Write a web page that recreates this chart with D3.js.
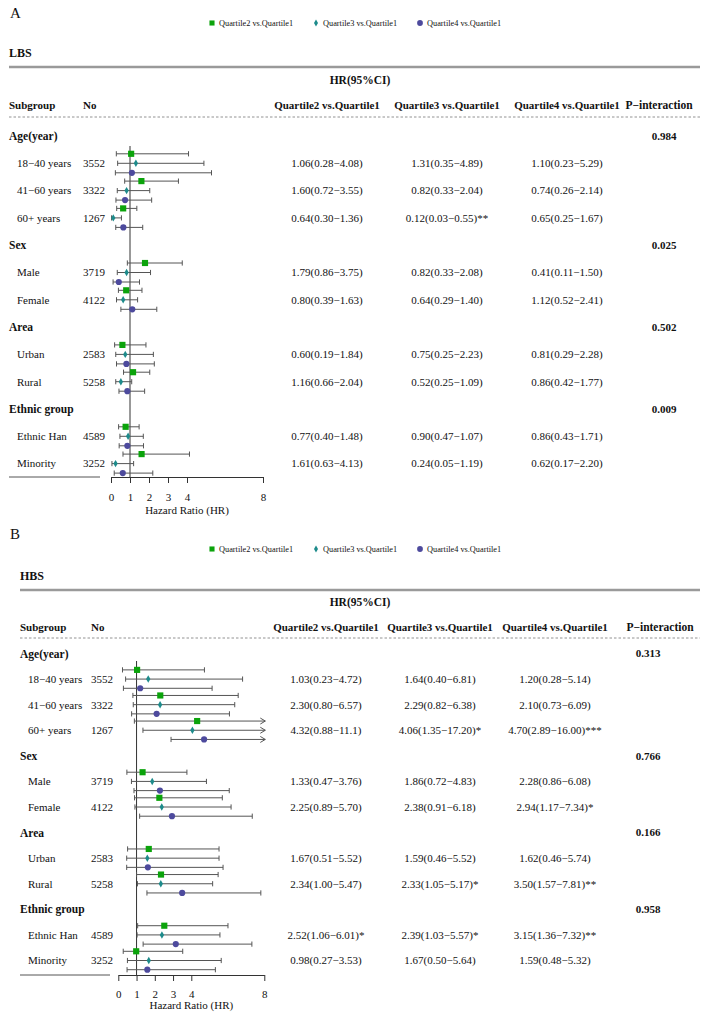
<!DOCTYPE html>
<html><head><meta charset="utf-8">
<script src="https://cdn.jsdelivr.net/npm/d3@7"></script>
<style>
body{margin:0;background:#fff}
svg text{font-family:"Liberation Serif","Times New Roman",serif;fill:#111}
</style>
</head><body>
<svg id="chart" width="711" height="1019"></svg>
<script>
// ---------------- DATA ----------------
const groupNames = ["Age(year)", "Sex", "Area", "Ethnic group"];
const groupOf = [0, 0, 0, 1, 1, 2, 2, 3, 3];
const subgroups = ["18\u221240 years", "41\u221260 years", "60+ years", "Male", "Female", "Urban", "Rural", "Ethnic Han", "Minority"];
const counts = ["3552", "3322", "1267", "3719", "4122", "2583", "5258", "4589", "3252"];
const seriesNames = ["Quartile2 vs.Quartile1", "Quartile3 vs.Quartile1", "Quartile4 vs.Quartile1"];
const axisTicks = [0, 1, 2, 3, 4, 8];

// Panel A: LBS
const lbsP = ["0.984", "0.025", "0.502", "0.009"];
const lbsQ2Est = [1.06, 1.60, 0.64, 1.79, 0.80, 0.60, 1.16, 0.77, 1.61];
const lbsQ2Lo  = [0.28, 0.72, 0.30, 0.86, 0.39, 0.19, 0.66, 0.40, 0.63];
const lbsQ2Hi  = [4.08, 3.55, 1.36, 3.75, 1.63, 1.84, 2.04, 1.48, 4.13];
const lbsQ3Est = [1.31, 0.82, 0.12, 0.82, 0.64, 0.75, 0.52, 0.90, 0.24];
const lbsQ3Lo  = [0.35, 0.33, 0.03, 0.33, 0.29, 0.25, 0.25, 0.47, 0.05];
const lbsQ3Hi  = [4.89, 2.04, 0.55, 2.08, 1.40, 2.23, 1.09, 1.70, 1.19];
const lbsQ4Est = [1.10, 0.74, 0.65, 0.41, 1.12, 0.81, 0.86, 0.86, 0.62];
const lbsQ4Lo  = [0.23, 0.26, 0.25, 0.11, 0.52, 0.29, 0.42, 0.43, 0.17];
const lbsQ4Hi  = [5.29, 2.14, 1.67, 1.50, 2.41, 2.28, 1.77, 1.71, 2.20];
const lbsQ2Text = ["1.06(0.28\u22124.08)", "1.60(0.72\u22123.55)", "0.64(0.30\u22121.36)", "1.79(0.86\u22123.75)", "0.80(0.39\u22121.63)", "0.60(0.19\u22121.84)", "1.16(0.66\u22122.04)", "0.77(0.40\u22121.48)", "1.61(0.63\u22124.13)"];
const lbsQ3Text = ["1.31(0.35\u22124.89)", "0.82(0.33\u22122.04)", "0.12(0.03\u22120.55)**", "0.82(0.33\u22122.08)", "0.64(0.29\u22121.40)", "0.75(0.25\u22122.23)", "0.52(0.25\u22121.09)", "0.90(0.47\u22121.07)", "0.24(0.05\u22121.19)"];
const lbsQ4Text = ["1.10(0.23\u22125.29)", "0.74(0.26\u22122.14)", "0.65(0.25\u22121.67)", "0.41(0.11\u22121.50)", "1.12(0.52\u22122.41)", "0.81(0.29\u22122.28)", "0.86(0.42\u22121.77)", "0.86(0.43\u22121.71)", "0.62(0.17\u22122.20)"];

// Panel B: HBS
const hbsP = ["0.313", "0.766", "0.166", "0.958"];
const hbsQ2Est = [1.03, 2.30, 4.32, 1.33, 2.25, 1.67, 2.34, 2.52, 0.98];
const hbsQ2Lo  = [0.23, 0.80, 0.88, 0.47, 0.89, 0.51, 1.00, 1.06, 0.27];
const hbsQ2Hi  = [4.72, 6.57, 11.1, 3.76, 5.70, 5.52, 5.47, 6.01, 3.53];
const hbsQ3Est = [1.64, 2.29, 4.06, 1.86, 2.38, 1.59, 2.33, 2.39, 1.67];
const hbsQ3Lo  = [0.40, 0.82, 1.35, 0.72, 0.91, 0.46, 1.05, 1.03, 0.50];
const hbsQ3Hi  = [6.81, 6.38, 17.20, 4.83, 6.18, 5.52, 5.17, 5.57, 5.64];
const hbsQ4Est = [1.20, 2.10, 4.70, 2.28, 2.94, 1.62, 3.50, 3.15, 1.59];
const hbsQ4Lo  = [0.28, 0.73, 2.89, 0.86, 1.17, 0.46, 1.57, 1.36, 0.48];
const hbsQ4Hi  = [5.14, 6.09, 16.00, 6.08, 7.34, 5.74, 7.81, 7.32, 5.32];
const hbsQ2Text = ["1.03(0.23\u22124.72)", "2.30(0.80\u22126.57)", "4.32(0.88\u221211.1)", "1.33(0.47\u22123.76)", "2.25(0.89\u22125.70)", "1.67(0.51\u22125.52)", "2.34(1.00\u22125.47)", "2.52(1.06\u22126.01)*", "0.98(0.27\u22123.53)"];
const hbsQ3Text = ["1.64(0.40\u22126.81)", "2.29(0.82\u22126.38)", "4.06(1.35\u221217.20)*", "1.86(0.72\u22124.83)", "2.38(0.91\u22126.18)", "1.59(0.46\u22125.52)", "2.33(1.05\u22125.17)*", "2.39(1.03\u22125.57)*", "1.67(0.50\u22125.64)"];
const hbsQ4Text = ["1.20(0.28\u22125.14)", "2.10(0.73\u22126.09)", "4.70(2.89\u221216.00)***", "2.28(0.86\u22126.08)", "2.94(1.17\u22127.34)*", "1.62(0.46\u22125.74)", "3.50(1.57\u22127.81)**", "3.15(1.36\u22127.32)**", "1.59(0.48\u22125.32)"];

// ---------------- STYLE / LAYOUT ----------------
const colors = ["#0ba30b", "#1d8b8b", "#4d4a9d"];
const shapes = [d3.symbolSquare, d3.symbolDiamond, d3.symbolCircle];
const sizes = [38, 16, 30];

const panels = [
  { letter: "A", name: "LBS", p: lbsP,
    est: [lbsQ2Est, lbsQ3Est, lbsQ4Est], lo: [lbsQ2Lo, lbsQ3Lo, lbsQ4Lo], hi: [lbsQ2Hi, lbsQ3Hi, lbsQ4Hi],
    txt: [lbsQ2Text, lbsQ3Text, lbsQ4Text],
    L: { left: 9, subX: 17, noX: 83, letterY: 13, legendY: 23, nameY: 53, thickY: 67, hrY: 80, headY: 105, dashY: 117,
         row0: 136, rowN: 463.6, off: 9.5, axisY: 477, xr: [111, 263], leftLine: [9, 100], refTop: 146,
         colX: [327, 447, 567], pX: 664, pHeadX: 659, tickPad: 10, titleY: 510 } },
  { letter: "B", name: "HBS", p: hbsP,
    est: [hbsQ2Est, hbsQ3Est, hbsQ4Est], lo: [hbsQ2Lo, hbsQ3Lo, hbsQ4Lo], hi: [hbsQ2Hi, hbsQ3Hi, hbsQ4Hi],
    txt: [hbsQ2Text, hbsQ3Text, hbsQ4Text],
    L: { left: 20, subX: 28, noX: 91, letterY: 534, legendY: 549, nameY: 576, thickY: 590, hrY: 602, headY: 627, dashY: 638,
         row0: 653.5, rowN: 960.5, off: 9.2, axisY: 975, xr: [118.3, 264.3], leftLine: [20, 110], refTop: 661,
         colX: [326, 440, 555], pX: 648, pHeadX: 660, tickPad: 9, titleY: 1005 } }
];

const svg = d3.select("#chart");

panels.forEach(P => {
  const L = P.L;
  const g = svg.append("g");

  const rows = [];
  groupNames.forEach((gn, gi) => {
    rows.push({ type: "group", gi });
    groupOf.forEach((go, si) => { if (go === gi) rows.push({ type: "sub", si }); });
  });
  const y = d3.scalePoint().domain(d3.range(rows.length)).range([L.row0, L.rowN]);
  const yOff = d3.scalePoint().domain([0, 1, 2]).range([-L.off, L.off]);
  const x = d3.scaleLinear().domain([0, 8]).range(L.xr);

  g.append("text").attr("x", 10).attr("y", L.letterY).attr("dy", "0.35em")
    .style("font-size", "15px").text(P.letter);

  const legX = [212, 316, 420];
  seriesNames.forEach((s, i) => {
    g.append("path").attr("d", d3.symbol(shapes[i], i === 1 ? 14 : 26)())
      .attr("transform", `translate(${legX[i]},${L.legendY})`).attr("fill", colors[i]);
    g.append("text").attr("x", legX[i] + 7).attr("y", L.legendY).attr("dy", "0.35em")
      .style("font-size", "8.3px").text(s);
  });

  g.append("text").attr("x", L.left).attr("y", L.nameY).attr("dy", "0.35em")
    .style("font-size", "12px").style("font-weight", "bold").text(P.name);
  g.append("line").attr("x1", L.left).attr("x2", 700).attr("y1", L.thickY).attr("y2", L.thickY)
    .attr("stroke", "#9a9a9a").attr("stroke-width", 2.5);
  g.append("text").attr("x", 360).attr("y", L.hrY).attr("dy", "0.35em").attr("text-anchor", "middle")
    .style("font-size", "11.5px").style("font-weight", "bold").text("HR(95%CI)");

  const hd = g.append("g").style("font-size", "11px").style("font-weight", "bold");
  hd.append("text").attr("x", L.left).attr("y", L.headY).attr("dy", "0.35em").text("Subgroup");
  hd.append("text").attr("x", L.noX).attr("y", L.headY).attr("dy", "0.35em").text("No");
  seriesNames.forEach((s, i) => {
    hd.append("text").attr("x", L.colX[i]).attr("y", L.headY).attr("dy", "0.35em")
      .attr("text-anchor", "middle").text(s);
  });
  hd.append("text").attr("x", L.pHeadX).attr("y", L.headY).attr("dy", "0.35em")
    .attr("text-anchor", "middle").style("font-size", "11.5px").text("P\u2212interaction");
  g.append("line").attr("x1", L.left).attr("x2", 700).attr("y1", L.dashY).attr("y2", L.dashY)
    .attr("stroke", "#777").attr("stroke-width", 0.8).attr("stroke-dasharray", "2.5,2");

  rows.forEach((r, ri) => {
    const yy = y(ri);
    if (r.type === "group") {
      g.append("text").attr("x", L.left).attr("y", yy).attr("dy", "0.35em")
        .style("font-size", "11.5px").style("font-weight", "bold").text(groupNames[r.gi]);
      g.append("text").attr("x", L.pX).attr("y", yy).attr("dy", "0.35em").attr("text-anchor", "middle")
        .style("font-size", "11px").style("font-weight", "bold").text(P.p[r.gi]);
    } else {
      const t = g.append("g").style("font-size", "11px");
      t.append("text").attr("x", L.subX).attr("y", yy).attr("dy", "0.35em").text(subgroups[r.si]);
      t.append("text").attr("x", L.noX).attr("y", yy).attr("dy", "0.35em").text(counts[r.si]);
      P.txt.forEach((arr, i) => {
        t.append("text").attr("x", L.colX[i]).attr("y", yy).attr("dy", "0.35em")
          .attr("text-anchor", "middle").text(arr[r.si]);
      });
    }
  });

  g.append("line").attr("x1", x(1)).attr("x2", x(1)).attr("y1", L.refTop).attr("y2", L.axisY)
    .attr("stroke", "#333").attr("stroke-width", 1);

  g.append("line").attr("x1", L.leftLine[0]).attr("x2", L.leftLine[1]).attr("y1", L.axisY).attr("y2", L.axisY)
    .attr("stroke", "#555").attr("stroke-width", 1);

  const maxX = x.domain()[1];
  rows.forEach((r, ri) => {
    if (r.type !== "sub") return;
    [0, 1, 2].forEach(i => {
      const yy = y(ri) + yOff(i);
      const lo = P.lo[i][r.si], hi = P.hi[i][r.si], est = P.est[i][r.si];
      const clipped = hi > maxX;
      const xHi = clipped ? x(maxX) + 1 : x(hi);
      const c = g.append("g").attr("stroke", "#555").attr("stroke-width", 1).attr("fill", "none");
      c.append("line").attr("x1", x(lo)).attr("x2", xHi).attr("y1", yy).attr("y2", yy);
      c.append("line").attr("x1", x(lo)).attr("x2", x(lo)).attr("y1", yy - 2.6).attr("y2", yy + 2.6);
      if (clipped) {
        c.append("path").attr("d", `M${xHi - 5},${yy - 3}L${xHi},${yy}L${xHi - 5},${yy + 3}`);
      } else {
        c.append("line").attr("x1", x(hi)).attr("x2", x(hi)).attr("y1", yy - 2.6).attr("y2", yy + 2.6);
      }
      g.append("path").attr("d", d3.symbol(shapes[i], sizes[i])())
        .attr("transform", `translate(${x(est)},${yy})`).attr("fill", colors[i]);
    });
  });

  const ax = g.append("g").attr("transform", `translate(0,${L.axisY})`)
    .call(d3.axisBottom(x).tickValues(axisTicks).tickFormat(d3.format("d")).tickSize(6).tickSizeOuter(0).tickPadding(L.tickPad));
  ax.select(".domain").attr("stroke", "#333");
  ax.selectAll(".tick line").attr("stroke", "#333");
  ax.selectAll(".tick text").style("font-size", "11px").style("font-family", "'Liberation Serif',serif").attr("fill", "#111");
  g.append("text").attr("x", (L.xr[0] + L.xr[1]) / 2).attr("y", L.titleY).attr("dy", "0.35em")
    .attr("text-anchor", "middle").style("font-size", "11px").text("Hazard Ratio (HR)");
});
</script>
</body></html>
